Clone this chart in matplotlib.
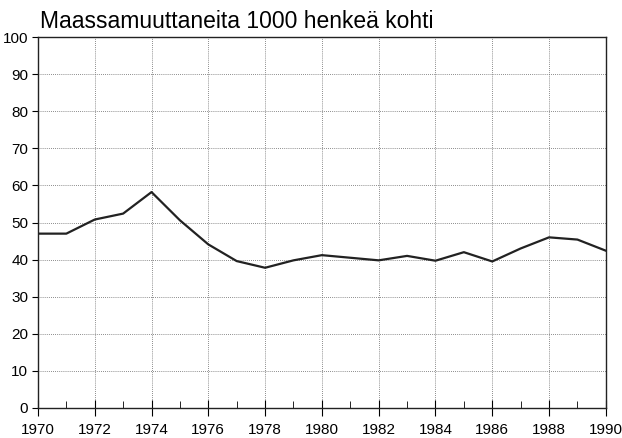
import numpy as np
import matplotlib.pyplot as plt

years = list(range(1970, 1991))
values = [47.0, 47.0, 50.8, 52.4, 58.2, 50.6, 44.1, 39.6, 37.8, 39.8, 41.2,
          40.5, 39.8, 41.0, 39.7, 42.0, 39.5, 43.0, 46.0, 45.4, 42.4]
x_ticks = list(range(1970, 1991, 2))
y_ticks = list(range(0, 101, 10))
title = "Maassamuuttaneita 1000 henkeä kohti"

plt.rcParams['font.family'] = ['Liberation Sans', 'DejaVu Sans']

fig = plt.figure(figsize=(6.22, 4.38), dpi=100)
ax = fig.add_axes([0.061, 0.0685, 0.913, 0.847])

ax.plot(years, values, color='#222222', linewidth=1.6)

ax.set_xlim(1970, 1990)
ax.set_ylim(0, 100)
ax.set_xticks(x_ticks)
ax.set_xticks(years, minor=True)
ax.set_yticks(y_ticks)
ax.grid(True, which='major', linestyle=(0, (1, 1.5)), color='#666666', linewidth=0.6)

ax.tick_params(axis='x', which='major', direction='inout', length=12, labelsize=11, pad=5)
ax.tick_params(axis='x', which='minor', direction='in', length=5)
ax.tick_params(axis='y', which='major', direction='out', length=4, labelsize=11, pad=3)
for s in ax.spines.values():
    s.set_linewidth(1.0)
    s.set_color('#222222')

fig.text(0.064, 0.936, title, fontsize=16.5, ha='left', va='baseline')

fig.savefig('out.png', dpi=100)
